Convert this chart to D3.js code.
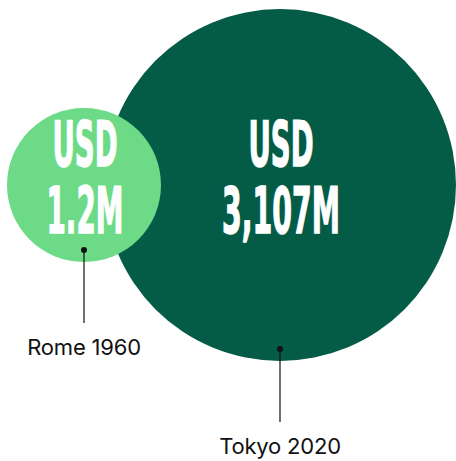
<!DOCTYPE html>
<html>
<head>
<meta charset="utf-8">
<script src="https://cdn.jsdelivr.net/npm/d3@7"></script>
<style>
  html, body { margin: 0; padding: 0; background: #fff; }
</style>
</head>
<body>
<div id="chart"></div>
<script>
// Olympic cost comparison - two bubbles
const cities      = ["Rome 1960", "Tokyo 2020"];
const costs       = [1.2, 3107];          // USD millions
const valueLabels = ["1.2M", "3,107M"];
const currency    = "USD";
const fills       = ["#6cda86", "#045c47"];

const width  = 456;
const height = 461;

const data = cities.map((c, i) => ({
  city: c, cost: costs[i], label: valueLabels[i], fill: fills[i]
}));

const svg = d3.select("#chart")
  .append("svg")
  .attr("width", width)
  .attr("height", height);

// not proportional in the original, log keeps the small one visible
const r = d3.scaleLog()
  .domain(d3.extent(costs))
  .range([77, 176]);

const cy = 185;
const margin = { left: 7, right: 0 };

// small bubble sits on the left edge, big one on the right edge
data.forEach(d => {
  d.r = r(d.cost);
  d.cx = d.cost === d3.max(costs)
    ? width - margin.right - d.r
    : margin.left + d.r;
  d.cy = cy;
});

// draw big first so the small one overlaps
const order = data.slice().sort((a, b) => b.cost - a.cost);

const g = svg.append("g")
  .selectAll("g")
  .data(order)
  .join("g");

g.append("circle")
  .attr("cx", d => d.cx)
  .attr("cy", d => d.cy)
  .attr("r", d => d.r)
  .attr("fill", d => d.fill);

// text inside bubbles (condensed heavy look) - squeeze horizontally
const bigFont = "'Liberation Sans Narrow', 'DejaVu Sans Condensed', sans-serif";

function squeezeText(sel, dy, size, targetW) {
  sel.append("g")
    .attr("transform", d => `translate(${d.cx + 1},${d.cy + dy})`)
    .append("text")
      .attr("text-anchor", "middle")
      .attr("fill", "#fff")
      .attr("stroke", "#fff")
      .attr("stroke-width", 1.4)
      .attr("font-family", bigFont)
      .attr("font-weight", 700)
      .attr("font-size", size)
      .text(d => d.text)
      .each(function (d) {
        const w = this.getBBox().width || 1;
        const tw = typeof targetW === "function" ? targetW(d) : targetW;
        d3.select(this).attr("transform", `scale(${tw / w},1)`);
      });
}

squeezeText(
  g.datum(d => Object.assign(d, { text: currency })),
  -19, 62, 65
);

g.each(d => { d.text = d.label; });
squeezeText(g, 48, 64, d => d.label.length > 4 ? 118 : 77);

// leader dots + lines + labels
const dotY = d => d.cy + d.r - 12;

svg.append("g")
  .selectAll("line")
  .data(data)
  .join("line")
    .attr("x1", d => d.cx)
    .attr("x2", d => d.cx)
    .attr("y1", dotY)
    .attr("y2", d => dotY(d) + 73)
    .attr("stroke", "#111")
    .attr("stroke-width", 1.2);

svg.append("g")
  .selectAll("circle")
  .data(data)
  .join("circle")
    .attr("cx", d => d.cx)
    .attr("cy", dotY)
    .attr("r", 3)
    .attr("fill", "#111");

svg.append("g")
  .selectAll("text")
  .data(data)
  .join("text")
    .attr("x", d => d.cx)
    .attr("y", d => dotY(d) + 105)
    .attr("text-anchor", "middle")
    .attr("fill", "#111")
    .attr("font-family", "Inter, 'Liberation Sans', sans-serif")
    .attr("font-size", 22)
    .attr("letter-spacing", -0.2)
    .text(d => d.city);
</script>
</body>
</html>
